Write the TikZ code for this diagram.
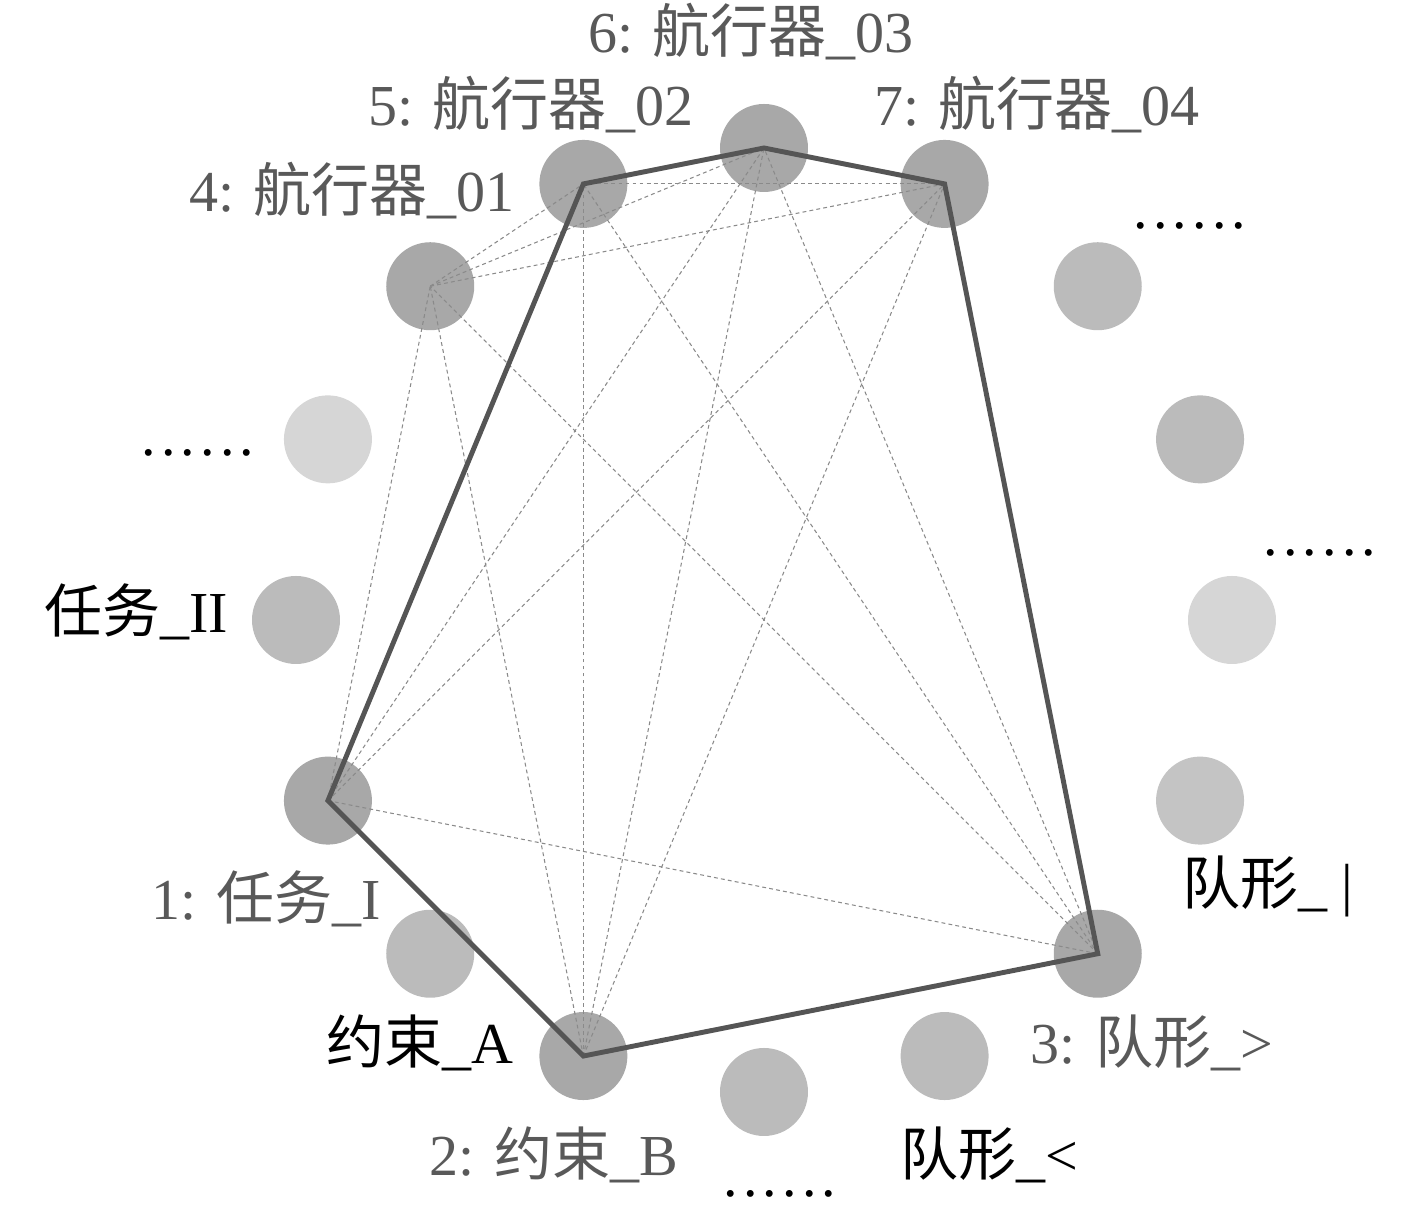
\documentclass[tikz,border=0pt]{standalone}
\usepackage{fontspec}
\setmainfont{Liberation Serif}
\newfontfamily\cjk{Noto Sans CJK SC}
\usepackage{tikz}
\definecolor{balldark}{HTML}{A8A8A8}
\definecolor{ballmid}{HTML}{BBBBBB}
\definecolor{ballsoft}{HTML}{C4C4C4}
\definecolor{balllight}{HTML}{D6D6D6}
\definecolor{ink}{HTML}{595959}
\definecolor{edgec}{HTML}{8A8A8A}
\definecolor{framec}{HTML}{555555}
\newcommand{\sixdots}{.\kern.09em.\kern.09em.\kern.09em.\kern.09em.\kern.09em.}
\tikzset{
  ball/.style={circle, fill=ballmid, minimum size=0.88cm, inner sep=0pt},
  hub/.style={ball, fill=balldark},
  lbl/.style={anchor=base, inner sep=0pt, text=ink, font=\fontsize{16.5}{18}\selectfont},
  lblk/.style={lbl, text=black},
  link/.style={draw=edgec, line width=0.3pt, dash pattern=on 1.1pt off 0.9pt},
  frame/.style={draw=framec, line width=1.4pt, line join=miter},
}

\begin{document}
\begin{tikzpicture}
  \useasboundingbox (-7.64,-5.85) rectangle (6.53,6.20);
  % numbered nodes
  \node[hub] (n1) at (202.5:4.72) {};
  \node[hub] (n2) at (247.5:4.72) {};
  \node[hub] (n3) at (315:4.72) {};
  \node[hub] (n4) at (135:4.72) {};
  \node[hub] (n5) at (112.5:4.72) {};
  \node[hub] (n6) at (90:4.72) {};
  \node[hub] (n7) at (67.5:4.72) {};
  % other nodes on the ring
  \node[ball] (c45) at (45:4.72) {};
  \node[ball] (c22) at (22.5:4.72) {};
  \node[ball, fill=balllight] (c0) at (0:4.68) {};
  \node[ball, fill=ballsoft] (c337) at (337.5:4.72) {};
  \node[ball] (c292) at (292.5:4.72) {};
  \node[ball] (c270) at (270:4.72) {};
  \node[ball] (c225) at (225:4.72) {};
  \node[ball] (c180) at (180:4.68) {};
  \node[ball, fill=balllight] (c157) at (157.5:4.72) {};
  % labels
  \node[lbl] (lab6) at (-0.13,5.67) {6: {\cjk 航行器}\_03};
  \node[lbl] (lab5) at (-2.33,4.94) {5: {\cjk 航行器}\_02};
  \node[lbl] (lab7) at (2.73,4.94) {7: {\cjk 航行器}\_04};
  \node[lbl] (lab4) at (-4.12,4.08) {4: {\cjk 航行器}\_01};
  \node[lbl] (lab1) at (-4.98,-3.00) {1: {\cjk 任务}\_I};
  \node[lbl] (lab2) at (-2.10,-5.56) {2: {\cjk 约束}\_B};
  \node[lbl] (lab3) at (3.88,-4.44) {3: {\cjk 队形}\_>};
  \node[lblk] (labII) at (-6.28,-0.13) {{\cjk 任务}\_II};
  \node[lblk] (labA) at (-3.44,-4.44) {{\cjk 约束}\_A};
  \node[lblk] (labbar) at (5.04,-2.85) {{\cjk 队形}\_ |};
  \node[lblk] (labless) at (2.25,-5.56) {{\cjk 队形}\_<};
  \node[lblk] (dotsa) at (4.26,3.91) {\sixdots};
  \node[lblk] (dotsb) at (-5.66,1.64) {\sixdots};
  \node[lblk] (dotsc) at (5.56,0.64) {\sixdots};
  \node[lblk] (dotsd) at (0.16,-5.77) {\sixdots};
  % all pairs among the numbered nodes
  \foreach \a/\b in {1/2,1/3,1/4,1/5,1/6,1/7,2/3,2/4,2/5,2/6,2/7,3/4,3/5,3/6,3/7,4/5,4/6,4/7,5/6,5/7,6/7}
    \draw[link] (n\a.center) -- (n\b.center);
  \draw[frame] (n1.center) -- (n5.center) -- (n6.center) -- (n7.center) -- (n3.center) -- (n2.center) -- cycle;
\end{tikzpicture}
\end{document}
